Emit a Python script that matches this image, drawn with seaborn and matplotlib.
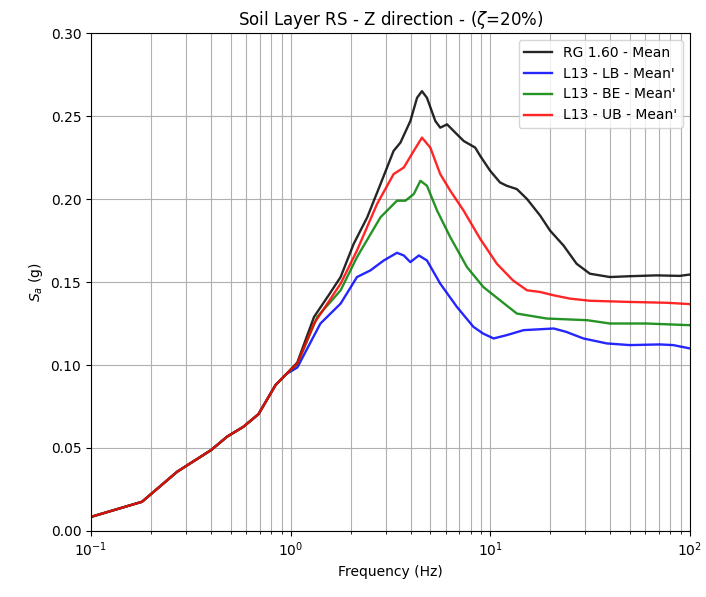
import matplotlib
matplotlib.use("Agg")
import matplotlib.pyplot as plt
import seaborn as sns

# shared low-frequency branch (all curves overlap here)
freq_low = [0.1, 0.18, 0.27, 0.40, 0.48, 0.58, 0.69, 0.84, 0.95]
sa_low = [0.0085, 0.0176, 0.0357, 0.0488, 0.0568, 0.0628, 0.0704, 0.0879, 0.0945]

# RG 1.60 - Mean
freq_rg = [1.08, 1.31, 1.55, 1.78, 2.07, 2.42, 2.82, 3.28, 3.55, 3.98, 4.30, 4.55, 4.82, 5.31,
           5.62, 6.08, 6.56, 7.36, 8.41, 8.91, 10.0, 11.2, 12.1, 13.6, 15.3, 17.8, 19.95, 23.3,
           27.1, 31.6, 39.8, 50, 68, 89, 100]
sa_rg = [0.1015, 0.129, 0.142, 0.153, 0.173, 0.189, 0.209, 0.229, 0.234, 0.247, 0.261, 0.265,
         0.261, 0.247, 0.243, 0.245, 0.241, 0.235, 0.231, 0.226, 0.217, 0.210, 0.208, 0.206,
         0.200, 0.190, 0.181, 0.172, 0.161, 0.155, 0.153, 0.1535, 0.154, 0.1537, 0.1545]

# L13 - LB - Mean'
freq_lb = [1.08, 1.41, 1.78, 2.15, 2.51, 2.93, 3.41, 3.69, 3.98, 4.39, 4.82, 5.62, 6.81, 8.24,
           9.2, 10.4, 12.1, 14.7, 20.8, 24.0, 29.3, 38.4, 50, 70.8, 82.6, 100]
sa_lb = [0.0985, 0.125, 0.137, 0.153, 0.157, 0.163, 0.1676, 0.166, 0.162, 0.166, 0.163, 0.149,
         0.135, 0.123, 0.119, 0.116, 0.118, 0.121, 0.122, 0.120, 0.116, 0.113, 0.112, 0.1124,
         0.112, 0.110]

# L13 - BE - Mean'
freq_be = [1.08, 1.36, 1.78, 2.15, 2.82, 3.41, 3.76, 4.14, 4.47, 4.82, 5.42, 6.31, 7.65, 9.24,
           11.2, 13.6, 19.2, 30.6, 39.8, 60.8, 100]
sa_be = [0.1005, 0.129, 0.145, 0.165, 0.189, 0.199, 0.199, 0.203, 0.211, 0.208, 0.193, 0.177,
         0.159, 0.147, 0.139, 0.131, 0.128, 0.127, 0.125, 0.125, 0.124]

# L13 - UB - Mean'
freq_ub = [1.08, 1.31, 1.78, 2.15, 2.71, 3.28, 3.69, 4.14, 4.55, 5.01, 5.62, 6.31, 7.36, 8.91,
           10.8, 13.0, 15.3, 17.8, 20.8, 25.1, 31.6, 50, 76.6, 100]
sa_ub = [0.101, 0.125, 0.149, 0.169, 0.197, 0.215, 0.219, 0.229, 0.237, 0.231, 0.215, 0.205,
         0.193, 0.176, 0.161, 0.151, 0.145, 0.144, 0.142, 0.140, 0.1387, 0.138, 0.1375, 0.1367]

series = [
    ("RG 1.60 - Mean", freq_rg, sa_rg, "black"),
    ("L13 - LB - Mean'", freq_lb, sa_lb, "blue"),
    ("L13 - BE - Mean'", freq_be, sa_be, "green"),
    ("L13 - UB - Mean'", freq_ub, sa_ub, "red"),
]

fig = plt.figure(figsize=(7.06, 5.97), dpi=100)
ax = fig.add_axes([0.129, 0.1106, 0.848, 0.834])

for label, f, sa, color in series:
    sns.lineplot(x=freq_low + f, y=sa_low + sa, ax=ax, color=color, lw=1.7,
                 alpha=0.85, label=label, sort=True)

ax.set_xscale("log")
ax.set_xlim(0.1, 100)
ax.set_ylim(0, 0.30)
ax.grid(True, which="both", axis="x", color="#b0b0b0", lw=0.8)
ax.grid(True, which="major", axis="y", color="#b0b0b0", lw=0.8)
ax.set_title(r"Soil Layer RS - Z direction - ($\zeta$=20%)", fontsize=12)
ax.set_xlabel("Frequency (Hz)")
ax.set_ylabel(r"$S_a$ (g)")
ax.legend(loc="upper right", fontsize=10)

fig.savefig("out.png", dpi=100)
